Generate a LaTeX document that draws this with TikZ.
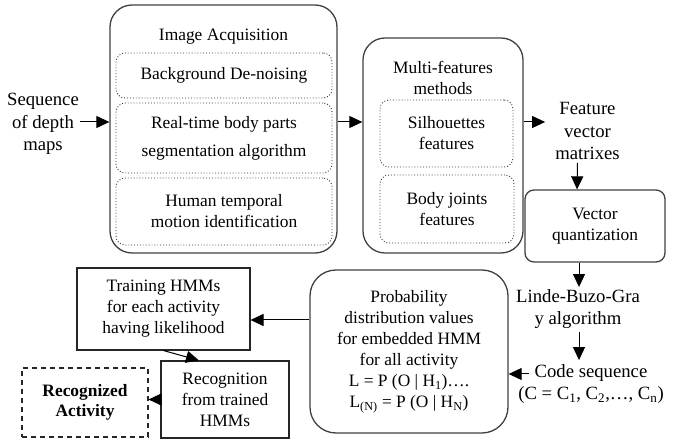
\documentclass[tikz,border=0pt]{standalone}
\usepackage{fontspec}
\setmainfont{Liberation Serif}
\usetikzlibrary{arrows.meta,calc}
\begin{document}
\begin{tikzpicture}[x=1pt,y=-1pt,
  boxtext/.style={font=\rmfamily\fontsize{17.4pt}{21pt}\selectfont, align=center},
  freetext/.style={font=\rmfamily\fontsize{18.7pt}{22.5pt}\selectfont, align=center, inner sep=0pt},
  outerbox/.style={draw=black!75, line width=1.3pt, rounded corners=22pt},
  vqbox/.style={draw=black!75, line width=1.3pt, rounded corners=9pt},
  dotbox/.style={draw=black!80, line width=0.9pt, dotted, rounded corners=9pt},
  sqbox/.style={draw=black!85, line width=1.1pt},
  dashbox/.style={draw=black!85, line width=1.1pt, dash pattern=on 5pt off 4pt},
  arr/.style={line width=1pt, -{Triangle[length=13pt,width=12pt]}}]
\useasboundingbox (0,0) rectangle (683,443);

% Image acquisition
\node[outerbox, minimum width=227pt, minimum height=248pt] (ia) at (223.5,129) {};
\node[boxtext] (iat) at (223.5,37) {Image Acquisition};
\node[dotbox, minimum width=216pt, minimum height=45pt, boxtext] (bg) at (224,75.5) {Background De-noising};
\node[dotbox, minimum width=216pt, minimum height=70pt, boxtext] (rt) at (224,138) {Real-time body parts\\[7pt]segmentation algorithm};
\node[dotbox, minimum width=216pt, minimum height=67pt, boxtext] (ht) at (224,211.5) {Human temporal\\motion identification};

% sequence
\node[freetext] (seq) at (43,124) {Sequence\\of depth\\maps};

% Multi-features
\node[outerbox, minimum width=160pt, minimum height=215pt] (mf) at (443,145.5) {};
\node[boxtext] (mft) at (443,78) {Multi-features\\methods};
\node[dotbox, minimum width=133pt, minimum height=67pt, boxtext] (sil) at (446.5,133.5) {Silhouettes\\features};
\node[dotbox, minimum width=134pt, minimum height=68pt, boxtext] (bj) at (447,209) {Body joints\\features};

% feature vector
\node[freetext] (fv) at (587.5,131) {Feature\\vector\\matrixes};

% vector quantization
\node[vqbox, minimum width=140pt, minimum height=72pt, boxtext] (vq) at (595,226) {Vector\\quantization};

% LBG
\node[freetext] (lbg) at (578,309) {Linde-Buzo-Gra\\y algorithm};

% code sequence
\node[freetext] (code) at (591,384) {Code sequence\\(C = C\textsubscript{1}, C\textsubscript{2},\dots, C\textsubscript{n})};

% probability
\node[outerbox, rounded corners=26pt, minimum width=198pt, minimum height=163pt, boxtext] (prob) at (409,351.5)
  {Probability\\distribution values\\for embedded HMM\\for all activity\\L = P (O | H\textsubscript{1})\dots.\\L\textsubscript{(N)} = P (O | H\textsubscript{N})};

% training
\node[sqbox, minimum width=173pt, minimum height=82pt, boxtext] (train) at (163.5,309) {Training HMMs\\for each activity\\having likelihood};

% recognition
\node[sqbox, minimum width=128pt, minimum height=77pt, boxtext] (rec) at (225,399.5) {Recognition\\from trained\\HMMs};

% recognized activity
\node[dashbox, minimum width=126pt, minimum height=69pt, boxtext, font=\rmfamily\fontsize{17.4pt}{20pt}\selectfont\bfseries] (act) at (85,402.5) {Recognized\\Activity};

% connectors
\coordinate (s1) at ($(seq.east)+(1,-2)$);
\draw[arr] (s1) -- (ia.west |- s1);
\draw[arr] (ia.east |- s1) -- (mf.west |- s1);
\draw[arr] (mf.east |- s1) -- ($(fv.west |- s1)+(-10,0)$);
\draw[arr] ($(fv.south)+(-10,3)$) -- ($(vq.north)+(-18,0)$);
\draw[arr] ($(vq.south)+(-16,0)$) -- ($(lbg.north)+(1,-2)$);
\draw[arr] ($(lbg.south)+(1,3)$) -- ($(code.north)+(-12,-4)$);
\coordinate (c1) at ($(code.west)+(11,-10)$);
\draw[arr] (c1) -- (prob.east |- c1);
\coordinate (t1) at ($(train.east)+(0,11)$);
\draw[arr] (prob.west |- t1) -- (t1);
\draw[arr] (train.south) -- ($(rec.north)+(-26,0)$);
\draw[arr] (rec.west) -- (act.east |- rec.west);
\end{tikzpicture}
\end{document}
